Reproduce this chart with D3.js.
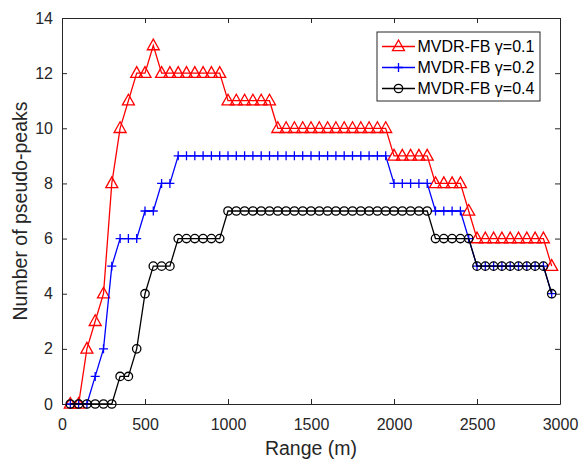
<!DOCTYPE html>
<html>
<head>
<meta charset="utf-8">
<script src="https://cdn.jsdelivr.net/npm/d3@7"></script>
<style>
  html, body { margin: 0; padding: 0; background: #fff; }
  svg { display: block; font-family: "Liberation Sans", Arial, sans-serif; }
</style>
</head>
<body>
<svg id="chart" width="582" height="460"></svg>
<script>
// Range samples (m)
const ranges = [50, 100, 150, 200, 250, 300, 350, 400, 450, 500,
  550, 600, 650, 700, 750, 800, 850, 900, 950, 1000,
  1050, 1100, 1150, 1200, 1250, 1300, 1350, 1400, 1450, 1500,
  1550, 1600, 1650, 1700, 1750, 1800, 1850, 1900, 1950, 2000,
  2050, 2100, 2150, 2200, 2250, 2300, 2350, 2400, 2450, 2500,
  2550, 2600, 2650, 2700, 2750, 2800, 2850, 2900, 2950];

// Number of pseudo-peaks for each γ
const peaksG01 = [0, 0, 2, 3, 4, 8, 10, 11, 12, 12,
  13, 12, 12, 12, 12, 12, 12, 12, 12, 11,
  11, 11, 11, 11, 11, 10, 10, 10, 10, 10,
  10, 10, 10, 10, 10, 10, 10, 10, 10, 9,
  9, 9, 9, 9, 8, 8, 8, 8, 7, 6,
  6, 6, 6, 6, 6, 6, 6, 6, 5];
const peaksG02 = [0, 0, 0, 1, 2, 5, 6, 6, 6, 7,
  7, 8, 8, 9, 9, 9, 9, 9, 9, 9,
  9, 9, 9, 9, 9, 9, 9, 9, 9, 9,
  9, 9, 9, 9, 9, 9, 9, 9, 9, 8,
  8, 8, 8, 8, 7, 7, 7, 7, 6, 5,
  5, 5, 5, 5, 5, 5, 5, 5, 4];
const peaksG04 = [0, 0, 0, 0, 0, 0, 1, 1, 2, 4,
  5, 5, 5, 6, 6, 6, 6, 6, 6, 7,
  7, 7, 7, 7, 7, 7, 7, 7, 7, 7,
  7, 7, 7, 7, 7, 7, 7, 7, 7, 7,
  7, 7, 7, 7, 6, 6, 6, 6, 6, 5,
  5, 5, 5, 5, 5, 5, 5, 5, 4];

const seriesNames = ["MVDR-FB γ=0.1", "MVDR-FB γ=0.2", "MVDR-FB γ=0.4"];
const xTicks = [0, 500, 1000, 1500, 2000, 2500, 3000];
const yTicks = [0, 2, 4, 6, 8, 10, 12, 14];

const series = [
  { name: seriesNames[0], values: peaksG01, color: "#ff0000", marker: "triangle" },
  { name: seriesNames[1], values: peaksG02, color: "#0000ff", marker: "plus" },
  { name: seriesNames[2], values: peaksG04, color: "#000000", marker: "circle" }
];

const W = 582, H = 460;
const margin = { top: 18, right: 22, bottom: 56, left: 62 };
const iw = W - margin.left - margin.right;
const ih = H - margin.top - margin.bottom;
const axisColor = "#262626";

const svg = d3.select("#chart");
const g = svg.append("g").attr("transform", `translate(${margin.left},${margin.top})`);

const x = d3.scaleLinear().domain([0, 3000]).range([0, iw]);
const y = d3.scaleLinear().domain([0, 14]).range([ih, 0]);

// Axes with inward ticks on all four sides
function styleAxis(sel) {
  sel.selectAll("path.domain").attr("stroke", axisColor).attr("stroke-width", 1);
  sel.selectAll(".tick line").attr("stroke", axisColor).attr("stroke-width", 1);
  sel.selectAll(".tick text").attr("fill", axisColor).attr("font-size", 16)
     .attr("font-family", "'Liberation Sans', Arial, sans-serif");
}
g.append("g").attr("transform", `translate(0,${ih})`)
  .call(d3.axisBottom(x).tickValues(xTicks).tickSizeInner(-5).tickSizeOuter(0).tickPadding(15).tickFormat(d3.format("d")))
  .call(styleAxis);
g.append("g")
  .call(d3.axisTop(x).tickValues(xTicks).tickSizeInner(-5).tickSizeOuter(0).tickFormat(""))
  .call(styleAxis);
g.append("g")
  .call(d3.axisLeft(y).tickValues(yTicks).tickSizeInner(-5).tickSizeOuter(0).tickPadding(9).tickFormat(d3.format("d")))
  .call(styleAxis);
g.append("g").attr("transform", `translate(${iw},0)`)
  .call(d3.axisRight(y).tickValues(yTicks).tickSizeInner(-5).tickSizeOuter(0).tickFormat(""))
  .call(styleAxis);

// Axis titles
svg.append("text")
  .attr("x", margin.left + iw / 2).attr("y", 455)
  .attr("text-anchor", "middle").attr("font-size", 19.5).attr("fill", axisColor)
  .text("Range (m)");
svg.append("text")
  .attr("transform", `translate(27,${margin.top + ih / 2}) rotate(-90)`)
  .attr("text-anchor", "middle").attr("font-size", 19.5).attr("fill", axisColor)
  .text("Number of pseudo-peaks");

// Marker drawing helper
function drawMarker(sel, type, color) {
  if (type === "triangle") {
    sel.append("path").attr("d", "M0,-6.5L6,4.2L-6,4.2Z")
      .attr("fill", "none").attr("stroke", color).attr("stroke-width", 1.3);
  } else if (type === "plus") {
    sel.append("path").attr("d", "M-4.5,0H4.5M0,-4.5V4.5")
      .attr("fill", "none").attr("stroke", color).attr("stroke-width", 1.3);
  } else {
    sel.append("circle").attr("r", 4.2)
      .attr("fill", "none").attr("stroke", color).attr("stroke-width", 1.3);
  }
}

const line = d3.line().x(d => x(d[0])).y(d => y(d[1]));

series.forEach(s => {
  const pts = ranges.map((r, i) => [r, s.values[i]]);
  const sg = g.append("g");
  sg.append("path").datum(pts).attr("d", line)
    .attr("fill", "none").attr("stroke", s.color).attr("stroke-width", 1.3);
  sg.selectAll("g.m").data(pts).join("g").attr("class", "m")
    .attr("transform", d => `translate(${x(d[0])},${y(d[1])})`)
    .each(function () { drawMarker(d3.select(this), s.marker, s.color); });
});

// Legend
const lg = svg.append("g").attr("transform", "translate(377,32)");
lg.append("rect").attr("width", 163).attr("height", 69)
  .attr("fill", "#fff").attr("stroke", axisColor).attr("stroke-width", 1);
series.forEach((s, i) => {
  const row = lg.append("g").attr("transform", `translate(0,${14.5 + i * 21})`);
  row.append("line").attr("x1", 5).attr("x2", 38).attr("y1", 0).attr("y2", 0)
    .attr("stroke", s.color).attr("stroke-width", 1.3);
  const m = row.append("g").attr("transform", "translate(21.5,0)");
  drawMarker(m, s.marker, s.color);
  row.append("text").attr("x", 40.5).attr("y", 5.8)
    .attr("font-size", 16).attr("fill", "#000").text(s.name);
});
</script>
</body>
</html>
